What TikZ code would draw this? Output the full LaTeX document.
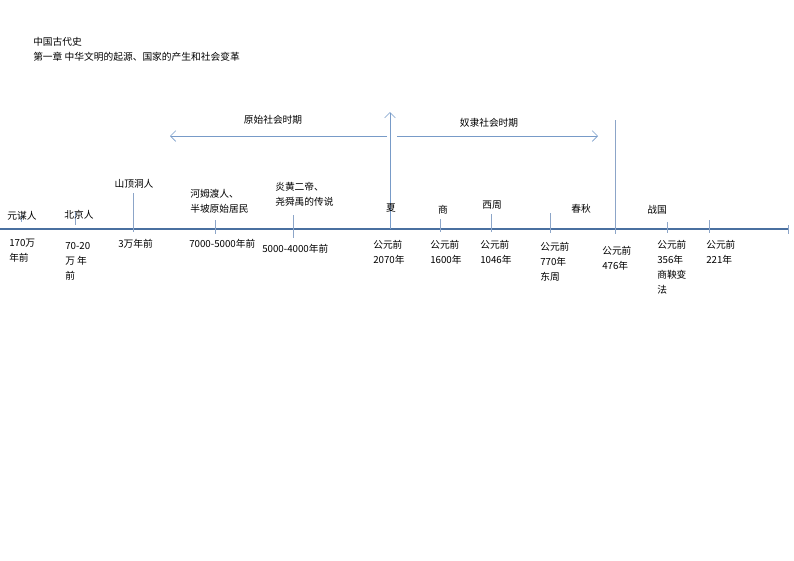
\documentclass[tikz,border=0pt]{standalone}
\usepackage{fontspec}
\usetikzlibrary{arrows.meta}
\setmainfont{Noto Sans CJK SC}
\definecolor{axis}{RGB}{74,112,160}
\definecolor{tick}{RGB}{140,165,200}
\definecolor{arrc}{RGB}{120,155,200}
\begin{document}
\begin{tikzpicture}[x=0.75pt,y=-0.75pt,
  lab/.style={font=\fontsize{7.3}{11.3}\selectfont,inner sep=0pt,align=left},
  labc/.style={lab,align=center},
  tk/.style={draw=tick,line width=0.5pt},
  arr/.style={draw=arrc,line width=0.5pt,-{Straight Barb[length=4pt,width=8pt]}}]
\useasboundingbox (0,0) rectangle (794,561);
\draw[line width=2pt,draw=axis] (0,229) -- (788,229);
\draw[tk] (788,225) -- (788,234);
\node[lab,anchor=west] (t1) at (33,42) {中国古代史};
\node[lab,anchor=west] (t2) at (33,57) {第一章 中华文明的起源、国家的产生和社会变革};
% ticks
\foreach \x/\a/\b in {21/215/222,75/212/225,133/193/232,215/220/234,293/215/238,440/219/232,491/214/232,550/213/233,667/222/233,709/220/233}
  \draw[tk] (\x,\a) -- (\x,\b);
\draw[tk] (615,120) -- (615,234);
\coordinate (xa) at (390,229);
\coordinate (xb) at (390,112);
\draw[arr] (xa) -- (xb);
\coordinate (l1) at (387,136); \coordinate (l2) at (170,136);
\coordinate (r1) at (397,136); \coordinate (r2) at (598,136);
\draw[arr] (l1) -- (l2);
\draw[arr] (r1) -- (r2);
\node[labc] (p1) at (273,120) {原始社会时期};
\node[labc] (p2) at (489,123) {奴隶社会时期};
% above
\node[labc] (a1) at (22,216) {元谋人};
\node[labc] (a2) at (79,215) {北京人};
\node[labc] (a3) at (134,184) {山顶洞人};
\node[lab,anchor=north west] (a4) at (190,189) {河姆渡人、\\半坡原始居民};
\node[lab,anchor=north west] (a5) at (275,182) {炎黄二帝、\\尧舜禹的传说};
\node[labc] (a6) at (391,208) {夏};
\node[labc] (a7) at (443,210) {商};
\node[labc] (a8) at (492,205) {西周};
\node[labc] (a9) at (581,209) {春秋};
\node[labc] (a10) at (657,210) {战国};
% below
\node[lab,anchor=north west] (b1) at (9,239) {170万\\年前};
\node[lab,anchor=north west] (b2) at (65,242) {70-20\\万 年\\前};
\node[lab,anchor=north west] (b3) at (118,239) {3万年前};
\node[lab,anchor=north west] (b4) at (189,239) {7000-5000年前};
\node[lab,anchor=north west] (b5) at (262,244) {5000-4000年前};
\node[lab,anchor=north west] (b6) at (373,240) {公元前\\2070年};
\node[lab,anchor=north west] (b7) at (430,240) {公元前\\1600年};
\node[lab,anchor=north west] (b8) at (480,240) {公元前\\1046年};
\node[lab,anchor=north west] (b9) at (540,242) {公元前\\770年\\东周};
\node[lab,anchor=north west] (b10) at (602,246) {公元前\\476年};
\node[lab,anchor=north west] (b11) at (657,240) {公元前\\356年\\商鞅变\\法};
\node[lab,anchor=north west] (b12) at (706,240) {公元前\\221年};
\end{tikzpicture}
\end{document}
